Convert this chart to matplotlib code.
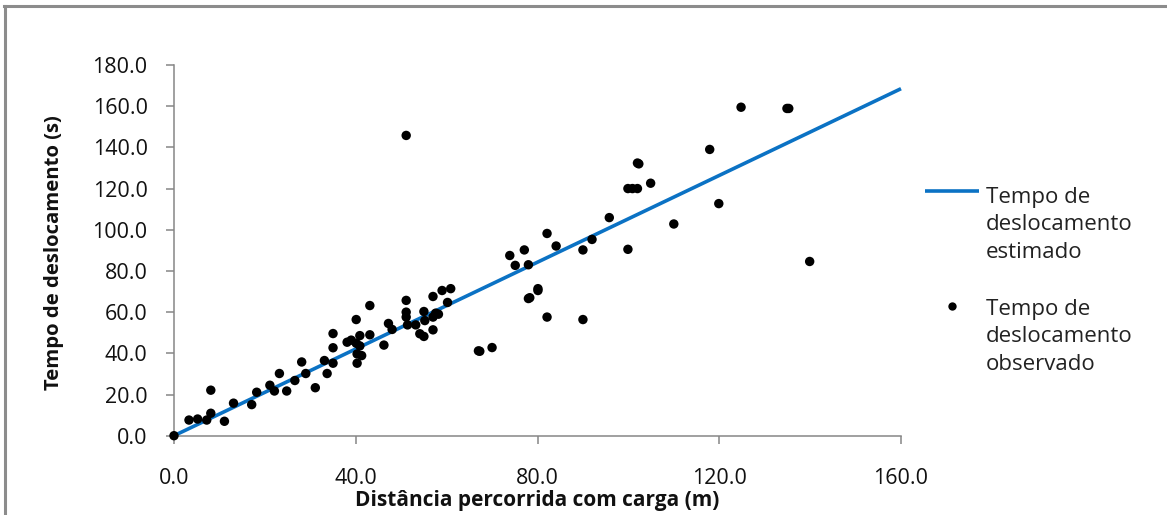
import matplotlib
matplotlib.use("Agg")
import matplotlib.pyplot as plt
from matplotlib.lines import Line2D

# ---- data ----
obs_x = [0.0, 3.3, 5.2, 7.2, 8.1, 8.1, 11.1, 13.1, 17.1, 18.2, 21.1, 22.1, 23.2, 24.8,
         26.6, 28.1, 29.0, 31.1, 33.1, 33.7, 35.0, 35.0, 35.0, 38.1, 39.0, 40.1, 40.1,
         40.3, 40.3, 40.9, 40.9, 41.3, 43.1, 43.1, 46.2, 47.2, 48.0, 51.1, 51.1, 51.1,
         51.4, 51.1, 53.2, 54.1, 55.0, 55.0, 55.2, 57.0, 57.0, 57.0, 57.6, 58.2, 59.0,
         60.2, 60.9, 67.0, 67.3, 70.0, 73.9, 75.1, 77.1, 78.0, 78.0, 78.3, 80.1, 80.1,
         82.1, 82.1, 84.1, 90.0, 90.0, 92.0, 95.8, 99.9, 99.9, 100.9, 102.0, 102.0, 102.3,
         104.9, 110.0, 117.9, 119.9, 124.8, 134.9, 135.3, 139.9]
obs_y = [0.0, 7.6, 8.1, 7.6, 22.1, 10.9, 7.0, 15.8, 15.1, 21.1, 24.5, 21.7, 30.2, 21.7,
         26.8, 35.8, 30.2, 23.3, 36.5, 30.2, 49.6, 42.7, 35.2, 45.4, 46.4, 56.4, 44.9,
         39.7, 35.2, 48.6, 43.6, 38.9, 63.2, 49.0, 44.0, 54.5, 51.6, 65.7, 60.0, 57.6,
         53.8, 145.8, 53.8, 49.5, 48.2, 60.3, 55.9, 67.6, 51.4, 57.6, 59.5, 59.0, 70.5,
         64.7, 71.4, 41.2, 41.0, 42.8, 87.5, 82.7, 90.2, 83.0, 66.6, 67.0, 70.5, 71.4,
         98.2, 57.6, 92.1, 90.2, 56.4, 95.3, 105.9, 90.5, 120.0, 120.0, 120.0, 132.4, 132.0,
         122.6, 102.8, 139.0, 112.7, 159.5, 158.9, 158.9, 84.6]

est_x = [0.0, 160.0]
est_y = [0.0, 168.5]

x_ticks = [0, 40, 80, 120, 160]
y_ticks = [0, 20, 40, 60, 80, 100, 120, 140, 160, 180]

label_est = "Tempo de\ndeslocamento\nestimado"
label_obs = "Tempo de\ndeslocamento\nobservado"
x_title = "Distância percorrida com carga (m)"
y_title = "Tempo de deslocamento (s)"

# ---- figure ----
W, H = 1167, 515
plt.rcParams['font.family'] = ['Open Sans', 'DejaVu Sans']
fig = plt.figure(figsize=(W / 100, H / 100), dpi=100)
fig.patch.set_facecolor('white')

x0, x1 = 174, 901
y_top, y_bot = 65, 435.7
ax = fig.add_axes([x0 / W, 1 - y_bot / H, (x1 - x0) / W, (y_bot - y_top) / H])

line_color = '#0B72C4'
ax.plot(est_x, est_y, color=line_color, lw=2.6, solid_capstyle='butt', zorder=2, clip_on=False)
ax.scatter(obs_x, obs_y, s=46, color='black', edgecolors='none', zorder=3, clip_on=False)

ax.set_xlim(0, 160)
ax.set_ylim(0, 180)
ax.set_xticks(x_ticks)
ax.set_yticks(y_ticks)
ax.set_xticklabels([f"{v:.1f}" for v in x_ticks])
ax.set_yticklabels([f"{v:.1f}" for v in y_ticks])

spine_c = '#868686'
for s in ['top', 'right']:
    ax.spines[s].set_visible(False)
for s in ['left', 'bottom']:
    ax.spines[s].set_color(spine_c)
    ax.spines[s].set_linewidth(1.1)

ax.tick_params(axis='x', direction='out', length=6, width=1.1, color=spine_c,
               labelsize=15.5, pad=17, labelcolor='#111111')
ax.tick_params(axis='y', direction='out', length=6, width=1.1, color=spine_c,
               labelsize=15.5, pad=13, labelcolor='#111111')

ax.set_xlabel(x_title, fontsize=15, fontweight='bold', va='center', color='#111111')
ax.xaxis.set_label_coords(0.5, (y_bot - 500) / (y_bot - y_top))
ax.set_ylabel(y_title, fontsize=14.6, fontweight='bold', va='center', color='#111111')
ax.yaxis.set_label_coords((54 - x0) / (x1 - x0), (y_bot - 253) / (y_bot - y_top))

# ---- legend (manual) ----
def fx(px):
    return px / W

def fy(py):
    return 1 - py / H

fig.add_artist(Line2D([fx(925), fx(979)], [fy(191), fy(191)], color=line_color, lw=2.6,
                      solid_capstyle='butt'))
fig.text(fx(986), fy(225), label_est, fontsize=16, va='center', ha='left',
         multialignment='left', color='#222222', linespacing=1.38)
fig.add_artist(Line2D([fx(952)], [fy(306)], marker='o', markersize=6, color='black',
                      markeredgecolor='none', linestyle='none'))
fig.text(fx(986), fy(337), label_obs, fontsize=16, va='center', ha='left',
         multialignment='left', color='#222222', linespacing=1.38)

# ---- chart border (top & left visible) ----
border_c = '#8C8C8C'
fig.add_artist(Line2D([fx(4), 1.0], [fy(6), fy(6)], color=border_c, lw=2.2))
fig.add_artist(Line2D([fx(5), fx(5)], [fy(6), 0.0], color=border_c, lw=2.2))

fig.savefig('out.png', dpi=100, facecolor='white')
